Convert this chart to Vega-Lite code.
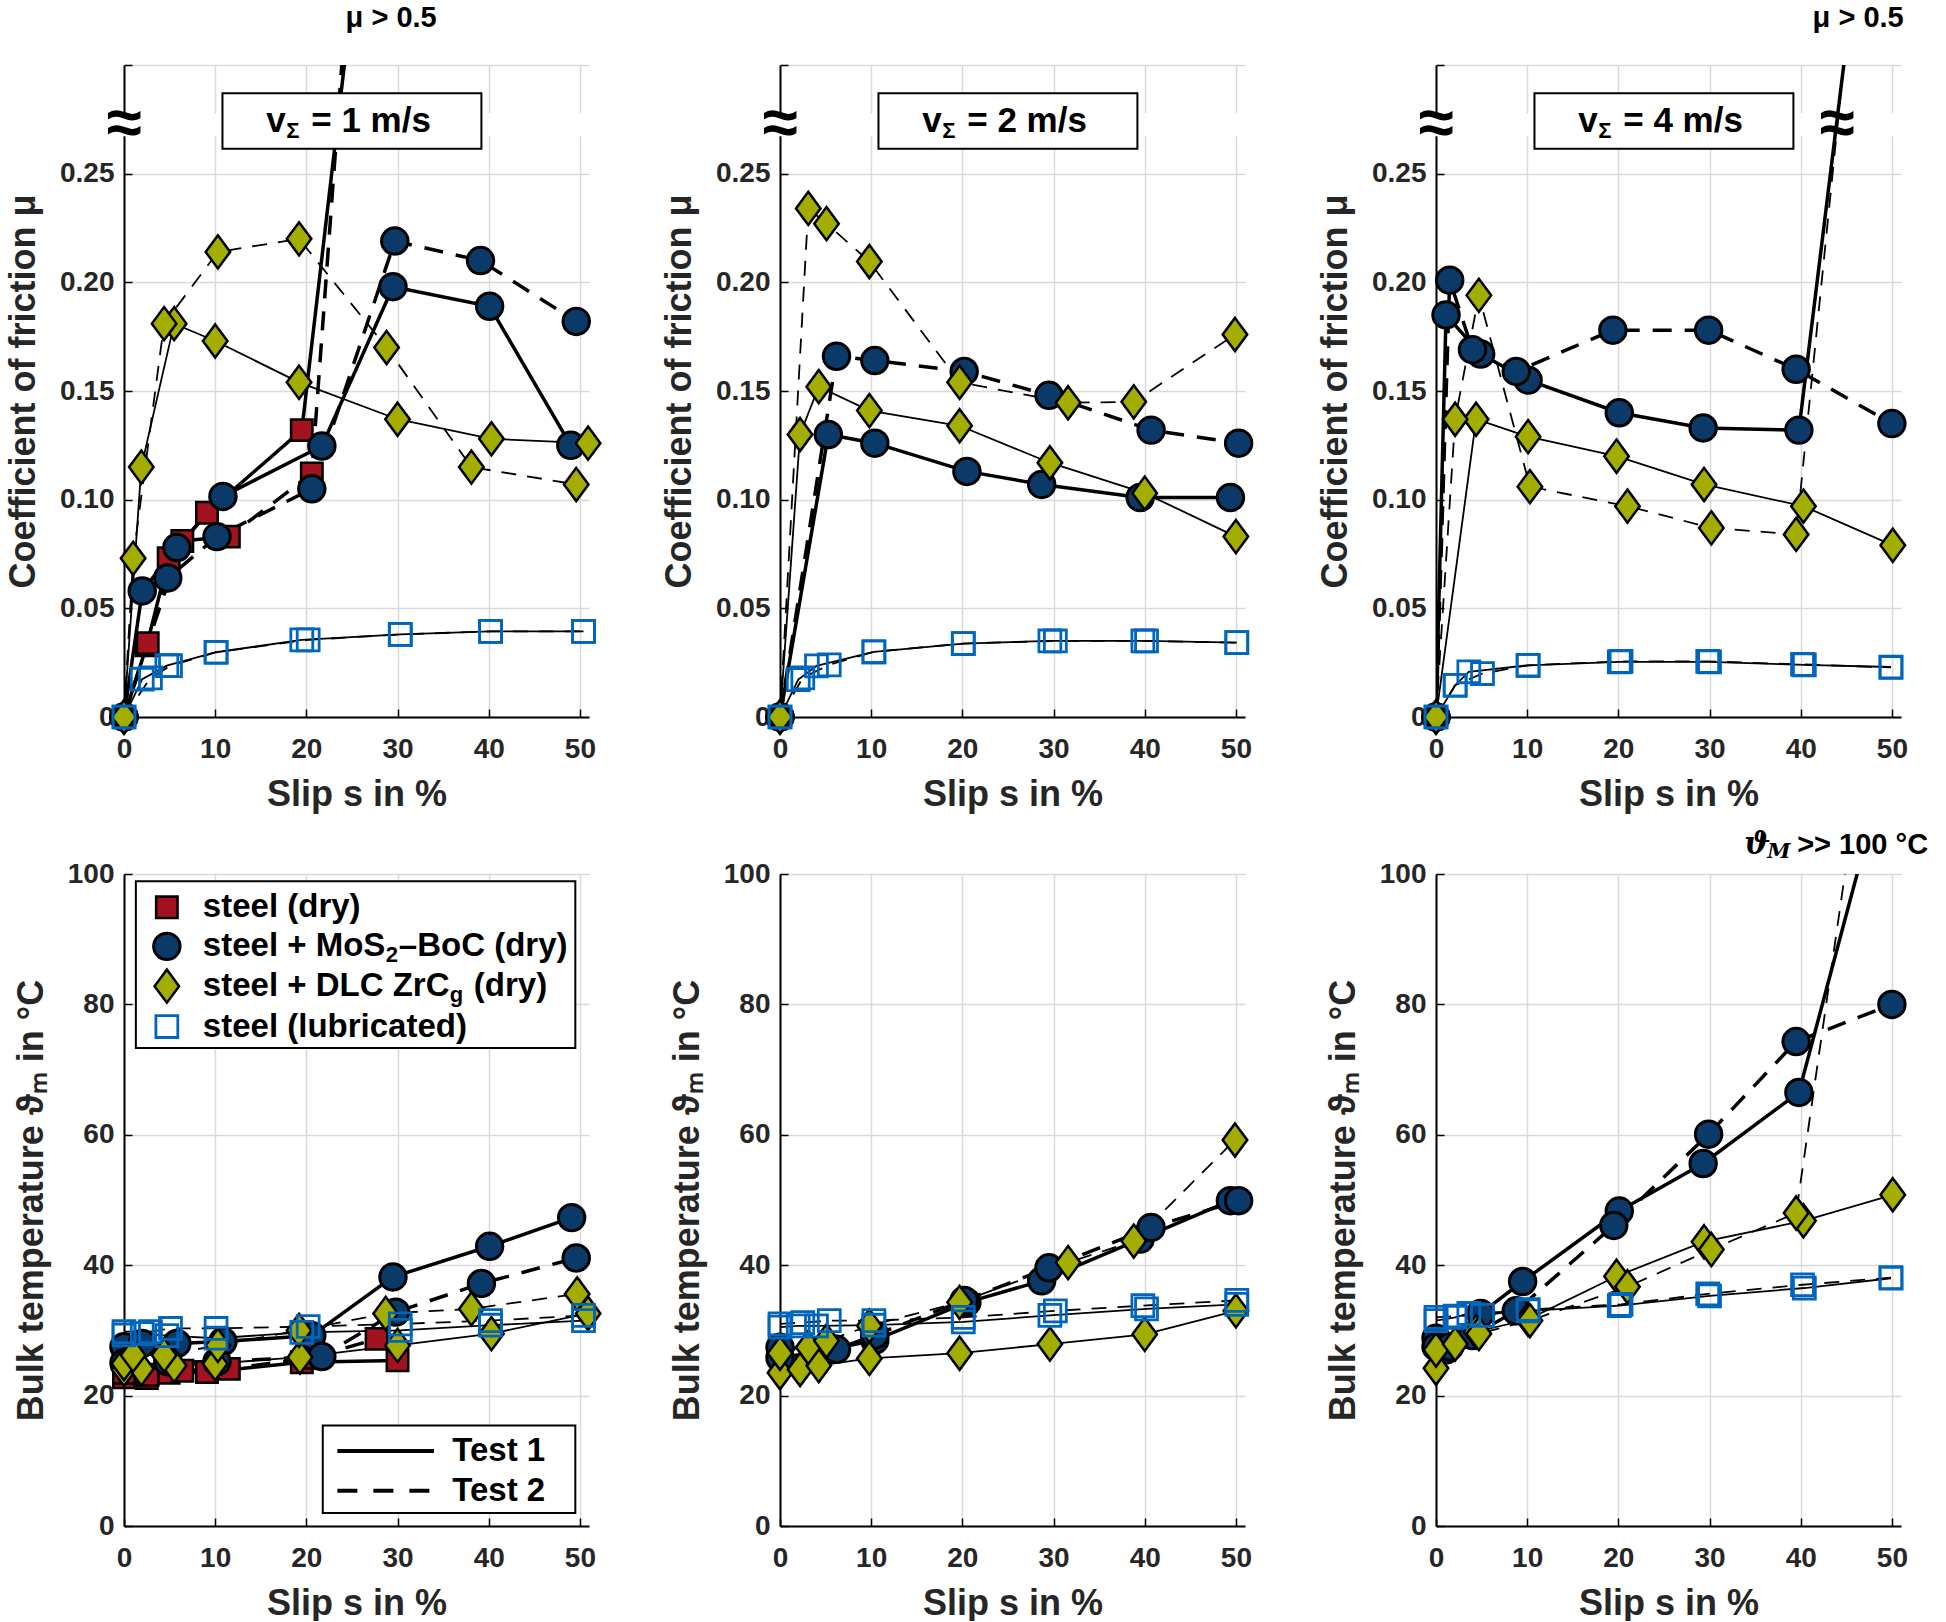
{
"$schema": "https://vega.github.io/schema/vega-lite/v6.json",
"background": "white",
"padding": {"left": 5, "top": 4, "right": 0, "bottom": 0},
"columns": 3,
"spacing": {"row": 157, "column": 191},
"bounds": "flush",
"config": {
 "view": {"stroke": null},
 "font": "Liberation Sans",
 "axis": {"domainColor": "#000", "domainWidth": 2, "gridColor": "#d9d9d9", "gridWidth": 1.5, "tickColor": "#000", "tickSize": -8, "tickWidth": 1.5, "labelFont": "Liberation Sans", "labelFontSize": 28, "labelFontWeight": "bold", "labelColor": "#262626", "labelPadding": 12, "titleFont": "Liberation Sans", "titleFontSize": 36, "titleFontWeight": "bold", "titleColor": "#262626", "titlePadding": 14, "labelFlush": false, "labelOverlap": false},
 "axisX": {"labelPadding": 26},
 "axisY": {"labelPadding": 18, "titlePadding": 17},
 "text": {"font": "Liberation Sans", "fontWeight": "bold", "color": "#000"}
},
"datasets": {
 "mu1": [
  {"m":"dry","t":1,"s":0,"y":0},{"m":"dry","t":1,"s":2.5,"y":0.033},{"m":"dry","t":1,"s":4.9,"y":0.073},{"m":"dry","t":1,"s":9.1,"y":0.094},{"m":"dry","t":1,"s":19.5,"y":0.132},{"m":"dry","t":1,"s":30,"y":0.51,"off":true},
  {"m":"dry","t":2,"s":0,"y":0},{"m":"dry","t":2,"s":2.6,"y":0.034},{"m":"dry","t":2,"s":6.4,"y":0.081},{"m":"dry","t":2,"s":11.5,"y":0.083},{"m":"dry","t":2,"s":20.6,"y":0.112},{"m":"dry","t":2,"s":30,"y":0.65,"off":true},
  {"m":"mos","t":1,"s":0,"y":0},{"m":"mos","t":1,"s":2,"y":0.058},{"m":"mos","t":1,"s":5.8,"y":0.078},{"m":"mos","t":1,"s":10.85,"y":0.1015},{"m":"mos","t":1,"s":21.7,"y":0.1247},{"m":"mos","t":1,"s":29.5,"y":0.198},{"m":"mos","t":1,"s":40.1,"y":0.189},{"m":"mos","t":1,"s":49,"y":0.125},
  {"m":"mos","t":2,"s":0,"y":0},{"m":"mos","t":2,"s":4.8,"y":0.064},{"m":"mos","t":2,"s":10.2,"y":0.083},{"m":"mos","t":2,"s":20.6,"y":0.105},{"m":"mos","t":2,"s":29.7,"y":0.219},{"m":"mos","t":2,"s":39.1,"y":0.21},{"m":"mos","t":2,"s":49.6,"y":0.182},
  {"m":"dlc","t":1,"s":0,"y":0},{"m":"dlc","t":1,"s":1.9,"y":0.115},{"m":"dlc","t":1,"s":5.5,"y":0.181},{"m":"dlc","t":1,"s":10,"y":0.173},{"m":"dlc","t":1,"s":19.2,"y":0.154},{"m":"dlc","t":1,"s":30,"y":0.137},{"m":"dlc","t":1,"s":40.3,"y":0.128},{"m":"dlc","t":1,"s":50.9,"y":0.126},
  {"m":"dlc","t":2,"s":0,"y":0},{"m":"dlc","t":2,"s":1,"y":0.073},{"m":"dlc","t":2,"s":4.4,"y":0.181},{"m":"dlc","t":2,"s":10.3,"y":0.214},{"m":"dlc","t":2,"s":19.2,"y":0.22},{"m":"dlc","t":2,"s":28.8,"y":0.17},{"m":"dlc","t":2,"s":38.1,"y":0.115},{"m":"dlc","t":2,"s":49.6,"y":0.107},
  {"m":"lub","t":1,"s":0,"y":0},{"m":"lub","t":1,"s":2,"y":0.0174},{"m":"lub","t":1,"s":4.7,"y":0.0236},{"m":"lub","t":1,"s":10.1,"y":0.0298},{"m":"lub","t":1,"s":19.5,"y":0.0355},{"m":"lub","t":1,"s":30.3,"y":0.038},{"m":"lub","t":1,"s":40.2,"y":0.0394},{"m":"lub","t":1,"s":50.4,"y":0.0394},
  {"m":"lub","t":2,"s":0,"y":0},{"m":"lub","t":2,"s":2.9,"y":0.018},{"m":"lub","t":2,"s":5.1,"y":0.0236},{"m":"lub","t":2,"s":10.1,"y":0.0298},{"m":"lub","t":2,"s":20.2,"y":0.0355},{"m":"lub","t":2,"s":30.3,"y":0.038},{"m":"lub","t":2,"s":40.2,"y":0.0394},{"m":"lub","t":2,"s":50.4,"y":0.0394}
 ],
 "mu2": [
  {"m":"mos","t":1,"s":0,"y":0},{"m":"mos","t":1,"s":5.3,"y":0.13},{"m":"mos","t":1,"s":10.4,"y":0.126},{"m":"mos","t":1,"s":20.5,"y":0.113},{"m":"mos","t":1,"s":28.7,"y":0.107},{"m":"mos","t":1,"s":39.5,"y":0.101},{"m":"mos","t":1,"s":49.4,"y":0.101},
  {"m":"mos","t":2,"s":0,"y":0},{"m":"mos","t":2,"s":6.2,"y":0.166},{"m":"mos","t":2,"s":10.4,"y":0.164},{"m":"mos","t":2,"s":20.2,"y":0.159},{"m":"mos","t":2,"s":29.5,"y":0.148},{"m":"mos","t":2,"s":40.7,"y":0.132},{"m":"mos","t":2,"s":50.3,"y":0.126},
  {"m":"dlc","t":1,"s":0,"y":0},{"m":"dlc","t":1,"s":2.2,"y":0.13},{"m":"dlc","t":1,"s":4.25,"y":0.152},{"m":"dlc","t":1,"s":9.8,"y":0.141},{"m":"dlc","t":1,"s":19.7,"y":0.134},{"m":"dlc","t":1,"s":29.6,"y":0.117},{"m":"dlc","t":1,"s":40,"y":0.103},{"m":"dlc","t":1,"s":50,"y":0.083},
  {"m":"dlc","t":2,"s":0,"y":0},{"m":"dlc","t":2,"s":3.1,"y":0.234},{"m":"dlc","t":2,"s":5.1,"y":0.227},{"m":"dlc","t":2,"s":9.8,"y":0.2096},{"m":"dlc","t":2,"s":19.7,"y":0.154},{"m":"dlc","t":2,"s":31.6,"y":0.1446},{"m":"dlc","t":2,"s":38.8,"y":0.145},{"m":"dlc","t":2,"s":49.9,"y":0.176},
  {"m":"lub","t":1,"s":0,"y":0},{"m":"lub","t":1,"s":2,"y":0.0172},{"m":"lub","t":1,"s":4,"y":0.0235},{"m":"lub","t":1,"s":10.3,"y":0.03},{"m":"lub","t":1,"s":20.1,"y":0.0338},{"m":"lub","t":1,"s":29.6,"y":0.035},{"m":"lub","t":1,"s":40.2,"y":0.035},{"m":"lub","t":1,"s":50.1,"y":0.0342},
  {"m":"lub","t":2,"s":0,"y":0},{"m":"lub","t":2,"s":2.5,"y":0.018},{"m":"lub","t":2,"s":5.4,"y":0.024},{"m":"lub","t":2,"s":10.3,"y":0.03},{"m":"lub","t":2,"s":20.1,"y":0.0338},{"m":"lub","t":2,"s":30.2,"y":0.035},{"m":"lub","t":2,"s":39.8,"y":0.035},{"m":"lub","t":2,"s":50.1,"y":0.0342}
 ],
 "mu4": [
  {"m":"mos","t":1,"s":0,"y":0},{"m":"mos","t":1,"s":1.1,"y":0.185},{"m":"mos","t":1,"s":4.9,"y":0.167},{"m":"mos","t":1,"s":10.1,"y":0.155},{"m":"mos","t":1,"s":20.1,"y":0.14},{"m":"mos","t":1,"s":29.3,"y":0.133},{"m":"mos","t":1,"s":39.8,"y":0.132},{"m":"mos","t":1,"s":50,"y":0.48,"off":true},
  {"m":"mos","t":2,"s":0,"y":0},{"m":"mos","t":2,"s":1.5,"y":0.201},{"m":"mos","t":2,"s":4,"y":0.169},{"m":"mos","t":2,"s":8.8,"y":0.159},{"m":"mos","t":2,"s":19.4,"y":0.178},{"m":"mos","t":2,"s":29.9,"y":0.178},{"m":"mos","t":2,"s":39.5,"y":0.16},{"m":"mos","t":2,"s":50,"y":0.135},
  {"m":"dlc","t":1,"s":0,"y":0},{"m":"dlc","t":1,"s":4.4,"y":0.137},{"m":"dlc","t":1,"s":10.1,"y":0.129},{"m":"dlc","t":1,"s":19.8,"y":0.12},{"m":"dlc","t":1,"s":29.4,"y":0.107},{"m":"dlc","t":1,"s":40.3,"y":0.097},{"m":"dlc","t":1,"s":50.1,"y":0.079},
  {"m":"dlc","t":2,"s":0,"y":0},{"m":"dlc","t":2,"s":2.1,"y":0.137},{"m":"dlc","t":2,"s":4.7,"y":0.194},{"m":"dlc","t":2,"s":10.3,"y":0.106},{"m":"dlc","t":2,"s":21,"y":0.097},{"m":"dlc","t":2,"s":30.2,"y":0.087},{"m":"dlc","t":2,"s":39.5,"y":0.084},{"m":"dlc","t":2,"s":50,"y":0.52,"off":true},
  {"m":"lub","t":1,"s":0,"y":0},{"m":"lub","t":1,"s":2.1,"y":0.0146},{"m":"lub","t":1,"s":3.6,"y":0.0208},{"m":"lub","t":1,"s":10.1,"y":0.0238},{"m":"lub","t":1,"s":20.1,"y":0.0254},{"m":"lub","t":1,"s":30,"y":0.0254},{"m":"lub","t":1,"s":40.4,"y":0.024},{"m":"lub","t":1,"s":49.9,"y":0.023},
  {"m":"lub","t":2,"s":0,"y":0},{"m":"lub","t":2,"s":2.1,"y":0.0146},{"m":"lub","t":2,"s":5.1,"y":0.02},{"m":"lub","t":2,"s":10.1,"y":0.0238},{"m":"lub","t":2,"s":20.3,"y":0.0256},{"m":"lub","t":2,"s":29.8,"y":0.0256},{"m":"lub","t":2,"s":40.2,"y":0.0242},{"m":"lub","t":2,"s":49.9,"y":0.0228}
 ],
 "T1": [
  {"m":"dry","t":1,"s":0,"y":22.8},{"m":"dry","t":1,"s":2.5,"y":22.7},{"m":"dry","t":1,"s":4.9,"y":23.5},{"m":"dry","t":1,"s":9.1,"y":23.6},{"m":"dry","t":1,"s":19.5,"y":25.1},{"m":"dry","t":1,"s":30,"y":25.4},
  {"m":"dry","t":2,"s":0,"y":23.5},{"m":"dry","t":2,"s":2.6,"y":23.2},{"m":"dry","t":2,"s":6.4,"y":23.8},{"m":"dry","t":2,"s":11.5,"y":24.1},{"m":"dry","t":2,"s":20.6,"y":25.8},{"m":"dry","t":2,"s":27.7,"y":28.7},
  {"m":"mos","t":1,"s":0,"y":27.5},{"m":"mos","t":1,"s":2,"y":28},{"m":"mos","t":1,"s":5.8,"y":28},{"m":"mos","t":1,"s":10.85,"y":28.3},{"m":"mos","t":1,"s":20.6,"y":29.2},{"m":"mos","t":1,"s":29.5,"y":38.2},{"m":"mos","t":1,"s":40.1,"y":42.9},{"m":"mos","t":1,"s":49.1,"y":47.3},
  {"m":"mos","t":2,"s":0,"y":25},{"m":"mos","t":2,"s":4.8,"y":25.2},{"m":"mos","t":2,"s":10.2,"y":25.2},{"m":"mos","t":2,"s":21.7,"y":26},{"m":"mos","t":2,"s":29.8,"y":32.8},{"m":"mos","t":2,"s":39.2,"y":37.2},{"m":"mos","t":2,"s":49.6,"y":41.1},
  {"m":"dlc","t":1,"s":0,"y":24},{"m":"dlc","t":1,"s":1.9,"y":24.1},{"m":"dlc","t":1,"s":5.5,"y":24.6},{"m":"dlc","t":1,"s":10,"y":24.9},{"m":"dlc","t":1,"s":19.3,"y":25.9},{"m":"dlc","t":1,"s":30,"y":27.7},{"m":"dlc","t":1,"s":40.3,"y":29.5},{"m":"dlc","t":1,"s":50.9,"y":32.6},
  {"m":"dlc","t":2,"s":0,"y":24.9},{"m":"dlc","t":2,"s":1,"y":26.2},{"m":"dlc","t":2,"s":4.4,"y":26.2},{"m":"dlc","t":2,"s":10.3,"y":27.7},{"m":"dlc","t":2,"s":19.2,"y":30},{"m":"dlc","t":2,"s":28.7,"y":32.6},{"m":"dlc","t":2,"s":38.1,"y":33.3},{"m":"dlc","t":2,"s":49.7,"y":35.6},
  {"m":"lub","t":1,"s":0,"y":29.3},{"m":"lub","t":1,"s":2,"y":29.5},{"m":"lub","t":1,"s":4.7,"y":29.2},{"m":"lub","t":1,"s":10.1,"y":28.8},{"m":"lub","t":1,"s":19.5,"y":29.7},{"m":"lub","t":1,"s":30.3,"y":30},{"m":"lub","t":1,"s":40.2,"y":30.8},{"m":"lub","t":1,"s":50.4,"y":31.5},
  {"m":"lub","t":2,"s":0,"y":29.8},{"m":"lub","t":2,"s":2.9,"y":29.8},{"m":"lub","t":2,"s":5.1,"y":30.3},{"m":"lub","t":2,"s":10.1,"y":30.3},{"m":"lub","t":2,"s":20.2,"y":30.6},{"m":"lub","t":2,"s":30.3,"y":31},{"m":"lub","t":2,"s":40.2,"y":31.5},{"m":"lub","t":2,"s":50.4,"y":32.3}
 ],
 "T2": [
  {"m":"mos","t":1,"s":0,"y":25.8},{"m":"mos","t":1,"s":5.3,"y":27},{"m":"mos","t":1,"s":10.4,"y":28.5},{"m":"mos","t":1,"s":20.5,"y":34.3},{"m":"mos","t":1,"s":28.7,"y":37.6},{"m":"mos","t":1,"s":39.5,"y":44},{"m":"mos","t":1,"s":49.4,"y":49.9},
  {"m":"mos","t":2,"s":0,"y":27.4},{"m":"mos","t":2,"s":6.2,"y":27.1},{"m":"mos","t":2,"s":10.4,"y":29.3},{"m":"mos","t":2,"s":20.2,"y":34.6},{"m":"mos","t":2,"s":29.5,"y":39.6},{"m":"mos","t":2,"s":40.7,"y":45.8},{"m":"mos","t":2,"s":50.3,"y":49.9},
  {"m":"dlc","t":1,"s":0,"y":23.5},{"m":"dlc","t":1,"s":2.2,"y":24},{"m":"dlc","t":1,"s":4.25,"y":24.6},{"m":"dlc","t":1,"s":9.8,"y":25.7},{"m":"dlc","t":1,"s":19.7,"y":26.5},{"m":"dlc","t":1,"s":29.6,"y":27.9},{"m":"dlc","t":1,"s":40,"y":29.4},{"m":"dlc","t":1,"s":50,"y":33},
  {"m":"dlc","t":2,"s":0,"y":26.5},{"m":"dlc","t":2,"s":3.1,"y":27.4},{"m":"dlc","t":2,"s":5.1,"y":28.4},{"m":"dlc","t":2,"s":9.8,"y":30.7},{"m":"dlc","t":2,"s":19.7,"y":34.3},{"m":"dlc","t":2,"s":31.6,"y":40.4},{"m":"dlc","t":2,"s":38.8,"y":43.7},{"m":"dlc","t":2,"s":49.9,"y":59.2},
  {"m":"lub","t":1,"s":0,"y":30.5},{"m":"lub","t":1,"s":2,"y":30.7},{"m":"lub","t":1,"s":4,"y":30.7},{"m":"lub","t":1,"s":10.3,"y":30.8},{"m":"lub","t":1,"s":20.1,"y":31.3},{"m":"lub","t":1,"s":29.6,"y":32.3},{"m":"lub","t":1,"s":40.2,"y":33.3},{"m":"lub","t":1,"s":50.1,"y":34},
  {"m":"lub","t":2,"s":0,"y":31},{"m":"lub","t":2,"s":2.5,"y":31.2},{"m":"lub","t":2,"s":5.4,"y":31.5},{"m":"lub","t":2,"s":10.3,"y":31.5},{"m":"lub","t":2,"s":20.1,"y":32},{"m":"lub","t":2,"s":30.2,"y":33},{"m":"lub","t":2,"s":39.8,"y":33.8},{"m":"lub","t":2,"s":50.1,"y":34.6}
 ],
 "T4": [
  {"m":"mos","t":1,"s":0,"y":28.8},{"m":"mos","t":1,"s":1.1,"y":27},{"m":"mos","t":1,"s":4.9,"y":32.6},{"m":"mos","t":1,"s":9.5,"y":37.5},{"m":"mos","t":1,"s":20.1,"y":48.3},{"m":"mos","t":1,"s":29.3,"y":55.6},{"m":"mos","t":1,"s":39.8,"y":66.5},{"m":"mos","t":1,"s":50,"y":120,"off":true},
  {"m":"mos","t":2,"s":0,"y":27.5},{"m":"mos","t":2,"s":1.5,"y":27.5},{"m":"mos","t":2,"s":4,"y":29.2},{"m":"mos","t":2,"s":8.8,"y":33},{"m":"mos","t":2,"s":19.5,"y":46.1},{"m":"mos","t":2,"s":29.9,"y":60.1},{"m":"mos","t":2,"s":39.5,"y":74.3},{"m":"mos","t":2,"s":50,"y":80},
  {"m":"dlc","t":1,"s":0,"y":24.2},{"m":"dlc","t":1,"s":4.4,"y":29.8},{"m":"dlc","t":1,"s":10.1,"y":31.7},{"m":"dlc","t":1,"s":19.8,"y":38.3},{"m":"dlc","t":1,"s":29.4,"y":43.6},{"m":"dlc","t":1,"s":40.3,"y":46.8},{"m":"dlc","t":1,"s":50.1,"y":50.8},
  {"m":"dlc","t":2,"s":0,"y":27},{"m":"dlc","t":2,"s":2.1,"y":27.9},{"m":"dlc","t":2,"s":4.7,"y":29.5},{"m":"dlc","t":2,"s":10.3,"y":31.5},{"m":"dlc","t":2,"s":21,"y":36.7},{"m":"dlc","t":2,"s":30.2,"y":42.4},{"m":"dlc","t":2,"s":39.5,"y":48},{"m":"dlc","t":2,"s":50,"y":150,"off":true},
  {"m":"lub","t":1,"s":0,"y":31.5},{"m":"lub","t":1,"s":2.1,"y":32},{"m":"lub","t":1,"s":3.6,"y":32.6},{"m":"lub","t":1,"s":10.1,"y":33},{"m":"lub","t":1,"s":20.1,"y":33.8},{"m":"lub","t":1,"s":30,"y":35.3},{"m":"lub","t":1,"s":40.4,"y":36.5},{"m":"lub","t":1,"s":49.9,"y":38},
  {"m":"lub","t":2,"s":0,"y":32},{"m":"lub","t":2,"s":2.1,"y":32.2},{"m":"lub","t":2,"s":5.1,"y":32.3},{"m":"lub","t":2,"s":10.1,"y":33.2},{"m":"lub","t":2,"s":20.3,"y":34},{"m":"lub","t":2,"s":29.8,"y":35.6},{"m":"lub","t":2,"s":40.2,"y":37},{"m":"lub","t":2,"s":49.9,"y":38.1}
 ],
 "leg": [
  {"m":"dry","s":4.7,"y":94.9,"lab":"steel (dry)"},
  {"m":"mos","s":4.7,"y":88.9,"lab":"steel + MoS","sub":"2","rest":"–BoC (dry)"},
  {"m":"dlc","s":4.7,"y":82.8,"lab":"steel + DLC ZrC","sub":"g","rest":"(dry)"},
  {"m":"lub","s":4.7,"y":76.6,"lab":"steel (lubricated)"}
 ]
},
"concat": [
 {
  "width": 465, "height": 652,
  "encoding": {
   "x": {"field":"s","type":"quantitative","scale":{"domain":[0,51],"nice":false,"zero":false},"axis":{"values":[0,10,20,30,40,50],"title":"Slip s in %"}},
   "y": {"field":"y","type":"quantitative","scale":{"domain":[0,0.3],"nice":false,"zero":false},"axis":{"values":[0,0.05,0.1,0.15,0.2,0.25,0.3],"title":"Coefficient of friction μ","labelExpr":"abs(datum.value)<0.001?'0':(datum.value>0.29?'':format(datum.value,'.2f'))"}}
  },
  "layer": [
   {"data":{"values":[{"s":-0.6,"s2":51,"y":0.2672,"y2":0.2778}]},"mark":{"type":"rect","fill":"white"},"encoding":{"x2":{"field":"s2"},"y2":{"field":"y2"}}},
   {"data":{"name":"mu1"},"transform":[{"filter":"(datum.m=='dry'||datum.m=='mos')&&datum.t==1"}],"mark":{"type":"line","clip":true,"color":"#000","strokeWidth":3.5},"encoding":{"detail":{"field":"m"}}},
   {"data":{"name":"mu1"},"transform":[{"filter":"(datum.m=='dry'||datum.m=='mos')&&datum.t==2"}],"mark":{"type":"line","clip":true,"color":"#000","strokeWidth":3.5,"strokeDash":[19,13]},"encoding":{"detail":{"field":"m"}}},
   {"data":{"name":"mu1"},"transform":[{"filter":"(datum.m=='dlc'||datum.m=='lub')&&datum.t==1"}],"mark":{"type":"line","clip":true,"color":"#000","strokeWidth":1.8},"encoding":{"detail":{"field":"m"}}},
   {"data":{"name":"mu1"},"transform":[{"filter":"(datum.m=='dlc'||datum.m=='lub')&&datum.t==2"}],"mark":{"type":"line","clip":true,"color":"#000","strokeWidth":1.8,"strokeDash":[15,11]},"encoding":{"detail":{"field":"m"}}},
   {"data":{"name":"mu1"},"transform":[{"filter":"datum.m=='dry'&&!datum.off"}],"mark":{"type":"point","shape":"square","size":460,"filled":true,"fill":"#a3121f","stroke":"#000","strokeWidth":2.5,"opacity":1}},
   {"data":{"name":"mu1"},"transform":[{"filter":"datum.m=='mos'&&!datum.off"}],"mark":{"type":"point","shape":"circle","size":700,"filled":true,"fill":"#0b3a68","stroke":"#000","strokeWidth":3,"opacity":1}},
   {"data":{"name":"mu1"},"transform":[{"filter":"datum.m=='dlc'&&!datum.off"}],"mark":{"type":"point","shape":"M0,-1L0.74,0L0,1L-0.74,0Z","size":1100,"filled":true,"fill":"#a2ad00","stroke":"#000","strokeWidth":2.5,"opacity":1}},
   {"data":{"name":"mu1"},"transform":[{"filter":"datum.m=='lub'&&!datum.off"}],"mark":{"type":"point","shape":"square","size":480,"filled":false,"stroke":"#0065bd","strokeWidth":2.8,"opacity":1}},
   {"data":{"values":[{"s":10.8,"s2":39.2,"y":0.2615,"y2":0.287}]},"mark":{"type":"rect","fill":"white","stroke":"#000","strokeWidth":2},"encoding":{"x2":{"field":"s2"},"y2":{"field":"y2"}}},
   {"data":{"values":[{"s":15.6,"y":0.2742,"lab":"v","sub":"Σ","rest":"= 1 m/s"}]},"mark":{"type":"text","align":"left","baseline":"middle","fontSize":35,"fontWeight":"bold"},"encoding":{"text":{"field":"lab"}}},
   {"data":{"values":[{"s":15.6,"y":0.2742,"lab":"v","sub":"Σ","rest":"= 1 m/s"}]},"mark":{"type":"text","align":"left","baseline":"middle","fontSize":22,"fontWeight":"bold","dx":20,"dy":10},"encoding":{"text":{"field":"sub"}}},
   {"data":{"values":[{"s":15.6,"y":0.2742,"lab":"v","sub":"Σ","rest":"= 1 m/s"}]},"mark":{"type":"text","align":"left","baseline":"middle","fontSize":35,"fontWeight":"bold","dx":45},"encoding":{"text":{"field":"rest"}}},
   {"data":{"values":[{"s":0,"y":0.2725,"lab":"≈"}]},"mark":{"type":"text","align":"center","baseline":"middle","fontSize":64,"fontWeight":"bold"},"encoding":{"text":{"field":"lab"}}},
   {"data":{"values":[{"s":29.3,"y":0.3216,"lab":"μ > 0.5"}]},"mark":{"type":"text","align":"center","baseline":"middle","fontSize":29,"fontWeight":"bold"},"encoding":{"text":{"field":"lab"}}}
  ]
 },
 {
  "width": 465, "height": 652,
  "encoding": {
   "x": {"field":"s","type":"quantitative","scale":{"domain":[0,51],"nice":false,"zero":false},"axis":{"values":[0,10,20,30,40,50],"title":"Slip s in %"}},
   "y": {"field":"y","type":"quantitative","scale":{"domain":[0,0.3],"nice":false,"zero":false},"axis":{"values":[0,0.05,0.1,0.15,0.2,0.25,0.3],"title":"Coefficient of friction μ","labelExpr":"abs(datum.value)<0.001?'0':(datum.value>0.29?'':format(datum.value,'.2f'))"}}
  },
  "layer": [
   {"data":{"values":[{"s":-0.6,"s2":51,"y":0.2672,"y2":0.2778}]},"mark":{"type":"rect","fill":"white"},"encoding":{"x2":{"field":"s2"},"y2":{"field":"y2"}}},
   {"data":{"name":"mu2"},"transform":[{"filter":"(datum.m=='dry'||datum.m=='mos')&&datum.t==1"}],"mark":{"type":"line","clip":true,"color":"#000","strokeWidth":3.5},"encoding":{"detail":{"field":"m"}}},
   {"data":{"name":"mu2"},"transform":[{"filter":"(datum.m=='dry'||datum.m=='mos')&&datum.t==2"}],"mark":{"type":"line","clip":true,"color":"#000","strokeWidth":3.5,"strokeDash":[19,13]},"encoding":{"detail":{"field":"m"}}},
   {"data":{"name":"mu2"},"transform":[{"filter":"(datum.m=='dlc'||datum.m=='lub')&&datum.t==1"}],"mark":{"type":"line","clip":true,"color":"#000","strokeWidth":1.8},"encoding":{"detail":{"field":"m"}}},
   {"data":{"name":"mu2"},"transform":[{"filter":"(datum.m=='dlc'||datum.m=='lub')&&datum.t==2"}],"mark":{"type":"line","clip":true,"color":"#000","strokeWidth":1.8,"strokeDash":[15,11]},"encoding":{"detail":{"field":"m"}}},
   {"data":{"name":"mu2"},"transform":[{"filter":"datum.m=='mos'&&!datum.off"}],"mark":{"type":"point","shape":"circle","size":700,"filled":true,"fill":"#0b3a68","stroke":"#000","strokeWidth":3,"opacity":1}},
   {"data":{"name":"mu2"},"transform":[{"filter":"datum.m=='dlc'&&!datum.off"}],"mark":{"type":"point","shape":"M0,-1L0.74,0L0,1L-0.74,0Z","size":1100,"filled":true,"fill":"#a2ad00","stroke":"#000","strokeWidth":2.5,"opacity":1}},
   {"data":{"name":"mu2"},"transform":[{"filter":"datum.m=='lub'&&!datum.off"}],"mark":{"type":"point","shape":"square","size":480,"filled":false,"stroke":"#0065bd","strokeWidth":2.8,"opacity":1}},
   {"data":{"values":[{"s":10.8,"s2":39.2,"y":0.2615,"y2":0.287}]},"mark":{"type":"rect","fill":"white","stroke":"#000","strokeWidth":2},"encoding":{"x2":{"field":"s2"},"y2":{"field":"y2"}}},
   {"data":{"values":[{"s":15.6,"y":0.2742,"lab":"v","sub":"Σ","rest":"= 2 m/s"}]},"mark":{"type":"text","align":"left","baseline":"middle","fontSize":35,"fontWeight":"bold"},"encoding":{"text":{"field":"lab"}}},
   {"data":{"values":[{"s":15.6,"y":0.2742,"lab":"v","sub":"Σ","rest":"= 2 m/s"}]},"mark":{"type":"text","align":"left","baseline":"middle","fontSize":22,"fontWeight":"bold","dx":20,"dy":10},"encoding":{"text":{"field":"sub"}}},
   {"data":{"values":[{"s":15.6,"y":0.2742,"lab":"v","sub":"Σ","rest":"= 2 m/s"}]},"mark":{"type":"text","align":"left","baseline":"middle","fontSize":35,"fontWeight":"bold","dx":45},"encoding":{"text":{"field":"rest"}}},
   {"data":{"values":[{"s":0,"y":0.2725,"lab":"≈"}]},"mark":{"type":"text","align":"center","baseline":"middle","fontSize":64,"fontWeight":"bold"},"encoding":{"text":{"field":"lab"}}}
  ]
 },
 {
  "width": 465, "height": 652,
  "encoding": {
   "x": {"field":"s","type":"quantitative","scale":{"domain":[0,51],"nice":false,"zero":false},"axis":{"values":[0,10,20,30,40,50],"title":"Slip s in %"}},
   "y": {"field":"y","type":"quantitative","scale":{"domain":[0,0.3],"nice":false,"zero":false},"axis":{"values":[0,0.05,0.1,0.15,0.2,0.25,0.3],"title":"Coefficient of friction μ","labelExpr":"abs(datum.value)<0.001?'0':(datum.value>0.29?'':format(datum.value,'.2f'))"}}
  },
  "layer": [
   {"data":{"values":[{"s":-0.6,"s2":51,"y":0.2672,"y2":0.2778}]},"mark":{"type":"rect","fill":"white"},"encoding":{"x2":{"field":"s2"},"y2":{"field":"y2"}}},
   {"data":{"name":"mu4"},"transform":[{"filter":"(datum.m=='dry'||datum.m=='mos')&&datum.t==1"}],"mark":{"type":"line","clip":true,"color":"#000","strokeWidth":3.5},"encoding":{"detail":{"field":"m"}}},
   {"data":{"name":"mu4"},"transform":[{"filter":"(datum.m=='dry'||datum.m=='mos')&&datum.t==2"}],"mark":{"type":"line","clip":true,"color":"#000","strokeWidth":3.5,"strokeDash":[19,13]},"encoding":{"detail":{"field":"m"}}},
   {"data":{"name":"mu4"},"transform":[{"filter":"(datum.m=='dlc'||datum.m=='lub')&&datum.t==1"}],"mark":{"type":"line","clip":true,"color":"#000","strokeWidth":1.8},"encoding":{"detail":{"field":"m"}}},
   {"data":{"name":"mu4"},"transform":[{"filter":"(datum.m=='dlc'||datum.m=='lub')&&datum.t==2"}],"mark":{"type":"line","clip":true,"color":"#000","strokeWidth":1.8,"strokeDash":[15,11]},"encoding":{"detail":{"field":"m"}}},
   {"data":{"name":"mu4"},"transform":[{"filter":"datum.m=='mos'&&!datum.off"}],"mark":{"type":"point","shape":"circle","size":700,"filled":true,"fill":"#0b3a68","stroke":"#000","strokeWidth":3,"opacity":1}},
   {"data":{"name":"mu4"},"transform":[{"filter":"datum.m=='dlc'&&!datum.off"}],"mark":{"type":"point","shape":"M0,-1L0.74,0L0,1L-0.74,0Z","size":1100,"filled":true,"fill":"#a2ad00","stroke":"#000","strokeWidth":2.5,"opacity":1}},
   {"data":{"name":"mu4"},"transform":[{"filter":"datum.m=='lub'&&!datum.off"}],"mark":{"type":"point","shape":"square","size":480,"filled":false,"stroke":"#0065bd","strokeWidth":2.8,"opacity":1}},
   {"data":{"values":[{"s":10.8,"s2":39.2,"y":0.2615,"y2":0.287}]},"mark":{"type":"rect","fill":"white","stroke":"#000","strokeWidth":2},"encoding":{"x2":{"field":"s2"},"y2":{"field":"y2"}}},
   {"data":{"values":[{"s":15.6,"y":0.2742,"lab":"v","sub":"Σ","rest":"= 4 m/s"}]},"mark":{"type":"text","align":"left","baseline":"middle","fontSize":35,"fontWeight":"bold"},"encoding":{"text":{"field":"lab"}}},
   {"data":{"values":[{"s":15.6,"y":0.2742,"lab":"v","sub":"Σ","rest":"= 4 m/s"}]},"mark":{"type":"text","align":"left","baseline":"middle","fontSize":22,"fontWeight":"bold","dx":20,"dy":10},"encoding":{"text":{"field":"sub"}}},
   {"data":{"values":[{"s":15.6,"y":0.2742,"lab":"v","sub":"Σ","rest":"= 4 m/s"}]},"mark":{"type":"text","align":"left","baseline":"middle","fontSize":35,"fontWeight":"bold","dx":45},"encoding":{"text":{"field":"rest"}}},
   {"data":{"values":[{"s":0,"y":0.2725,"lab":"≈"},{"s":44,"y":0.2725,"lab":"≈"}]},"mark":{"type":"text","align":"center","baseline":"middle","fontSize":64,"fontWeight":"bold"},"encoding":{"text":{"field":"lab"}}},
   {"data":{"values":[{"s":46.3,"y":0.3216,"lab":"μ > 0.5"}]},"mark":{"type":"text","align":"center","baseline":"middle","fontSize":29,"fontWeight":"bold"},"encoding":{"text":{"field":"lab"}}}
  ]
 },
 {
  "width": 465, "height": 652,
  "encoding": {
   "x": {"field":"s","type":"quantitative","scale":{"domain":[0,51],"nice":false,"zero":false},"axis":{"values":[0,10,20,30,40,50],"title":"Slip s in %"}},
   "y": {"field":"y","type":"quantitative","scale":{"domain":[0,100],"nice":false,"zero":false},"axis":{"values":[0,20,40,60,80,100],"title":"Bulk temperature ϑₘ in °C"}}
  },
  "layer": [
   {"data":{"name":"T1"},"transform":[{"filter":"(datum.m=='dry'||datum.m=='mos')&&datum.t==1"}],"mark":{"type":"line","clip":true,"color":"#000","strokeWidth":3.5},"encoding":{"detail":{"field":"m"}}},
   {"data":{"name":"T1"},"transform":[{"filter":"(datum.m=='dry'||datum.m=='mos')&&datum.t==2"}],"mark":{"type":"line","clip":true,"color":"#000","strokeWidth":3.5,"strokeDash":[19,13]},"encoding":{"detail":{"field":"m"}}},
   {"data":{"name":"T1"},"transform":[{"filter":"(datum.m=='dlc'||datum.m=='lub')&&datum.t==1"}],"mark":{"type":"line","clip":true,"color":"#000","strokeWidth":1.8},"encoding":{"detail":{"field":"m"}}},
   {"data":{"name":"T1"},"transform":[{"filter":"(datum.m=='dlc'||datum.m=='lub')&&datum.t==2"}],"mark":{"type":"line","clip":true,"color":"#000","strokeWidth":1.8,"strokeDash":[15,11]},"encoding":{"detail":{"field":"m"}}},
   {"data":{"name":"T1"},"transform":[{"filter":"datum.m=='dry'&&!datum.off"}],"mark":{"type":"point","shape":"square","size":460,"filled":true,"fill":"#a3121f","stroke":"#000","strokeWidth":2.5,"opacity":1}},
   {"data":{"name":"T1"},"transform":[{"filter":"datum.m=='mos'&&!datum.off"}],"mark":{"type":"point","shape":"circle","size":700,"filled":true,"fill":"#0b3a68","stroke":"#000","strokeWidth":3,"opacity":1}},
   {"data":{"name":"T1"},"transform":[{"filter":"datum.m=='dlc'&&!datum.off"}],"mark":{"type":"point","shape":"M0,-1L0.74,0L0,1L-0.74,0Z","size":1100,"filled":true,"fill":"#a2ad00","stroke":"#000","strokeWidth":2.5,"opacity":1}},
   {"data":{"name":"T1"},"transform":[{"filter":"datum.m=='lub'&&!datum.off"}],"mark":{"type":"point","shape":"square","size":480,"filled":false,"stroke":"#0065bd","strokeWidth":2.8,"opacity":1}},
   {"data":{"values":[{"s":1.3,"s2":49.5,"y":73.3,"y2":98.9}]},"mark":{"type":"rect","fill":"white","stroke":"#000","strokeWidth":2},"encoding":{"x2":{"field":"s2"},"y2":{"field":"y2"}}},
   {"data":{"name":"leg"},"transform":[{"filter":"datum.m=='dry'"}],"mark":{"type":"point","shape":"square","size":460,"filled":true,"fill":"#a3121f","stroke":"#000","strokeWidth":2.5,"opacity":1}},
   {"data":{"name":"leg"},"transform":[{"filter":"datum.m=='mos'"}],"mark":{"type":"point","shape":"circle","size":700,"filled":true,"fill":"#0b3a68","stroke":"#000","strokeWidth":3,"opacity":1}},
   {"data":{"name":"leg"},"transform":[{"filter":"datum.m=='dlc'"}],"mark":{"type":"point","shape":"M0,-1L0.74,0L0,1L-0.74,0Z","size":1100,"filled":true,"fill":"#a2ad00","stroke":"#000","strokeWidth":2.5,"opacity":1}},
   {"data":{"name":"leg"},"transform":[{"filter":"datum.m=='lub'"}],"mark":{"type":"point","shape":"square","size":480,"filled":false,"stroke":"#0065bd","strokeWidth":2.8,"opacity":1}},
   {"data":{"name":"leg"},"mark":{"type":"text","align":"left","baseline":"middle","fontSize":33,"fontWeight":"bold","dx":36},"encoding":{"text":{"field":"lab"}}},
   {"data":{"name":"leg"},"transform":[{"filter":"datum.m=='mos'"}],"mark":{"type":"text","align":"left","baseline":"middle","fontSize":22,"fontWeight":"bold","dx":219,"dy":9},"encoding":{"text":{"field":"sub"}}},
   {"data":{"name":"leg"},"transform":[{"filter":"datum.m=='mos'"}],"mark":{"type":"text","align":"left","baseline":"middle","fontSize":33,"fontWeight":"bold","dx":232},"encoding":{"text":{"field":"rest"}}},
   {"data":{"name":"leg"},"transform":[{"filter":"datum.m=='dlc'"}],"mark":{"type":"text","align":"left","baseline":"middle","fontSize":22,"fontWeight":"bold","dx":283,"dy":9},"encoding":{"text":{"field":"sub"}}},
   {"data":{"name":"leg"},"transform":[{"filter":"datum.m=='dlc'"}],"mark":{"type":"text","align":"left","baseline":"middle","fontSize":33,"fontWeight":"bold","dx":307},"encoding":{"text":{"field":"rest"}}},
   {"data":{"values":[{"s":21.8,"s2":49.5,"y":2.0,"y2":15.4}]},"mark":{"type":"rect","fill":"white","stroke":"#000","strokeWidth":2},"encoding":{"x2":{"field":"s2"},"y2":{"field":"y2"}}},
   {"data":{"values":[{"s":23.4,"s2":34,"y":11.5}]},"mark":{"type":"rule","color":"#000","strokeWidth":4},"encoding":{"x2":{"field":"s2"}}},
   {"data":{"values":[{"s":23.4,"s2":34,"y":5.4}]},"mark":{"type":"rule","color":"#000","strokeWidth":4,"strokeDash":[20,16]},"encoding":{"x2":{"field":"s2"}}},
   {"data":{"values":[{"s":36,"y":11.5,"lab":"Test 1"},{"s":36,"y":5.4,"lab":"Test 2"}]},"mark":{"type":"text","align":"left","baseline":"middle","fontSize":33,"fontWeight":"bold"},"encoding":{"text":{"field":"lab"}}}
  ]
 },
 {
  "width": 465, "height": 652,
  "encoding": {
   "x": {"field":"s","type":"quantitative","scale":{"domain":[0,51],"nice":false,"zero":false},"axis":{"values":[0,10,20,30,40,50],"title":"Slip s in %"}},
   "y": {"field":"y","type":"quantitative","scale":{"domain":[0,100],"nice":false,"zero":false},"axis":{"values":[0,20,40,60,80,100],"title":"Bulk temperature ϑₘ in °C"}}
  },
  "layer": [
   {"data":{"name":"T2"},"transform":[{"filter":"(datum.m=='dry'||datum.m=='mos')&&datum.t==1"}],"mark":{"type":"line","clip":true,"color":"#000","strokeWidth":3.5},"encoding":{"detail":{"field":"m"}}},
   {"data":{"name":"T2"},"transform":[{"filter":"(datum.m=='dry'||datum.m=='mos')&&datum.t==2"}],"mark":{"type":"line","clip":true,"color":"#000","strokeWidth":3.5,"strokeDash":[19,13]},"encoding":{"detail":{"field":"m"}}},
   {"data":{"name":"T2"},"transform":[{"filter":"(datum.m=='dlc'||datum.m=='lub')&&datum.t==1"}],"mark":{"type":"line","clip":true,"color":"#000","strokeWidth":1.8},"encoding":{"detail":{"field":"m"}}},
   {"data":{"name":"T2"},"transform":[{"filter":"(datum.m=='dlc'||datum.m=='lub')&&datum.t==2"}],"mark":{"type":"line","clip":true,"color":"#000","strokeWidth":1.8,"strokeDash":[15,11]},"encoding":{"detail":{"field":"m"}}},
   {"data":{"name":"T2"},"transform":[{"filter":"datum.m=='mos'&&!datum.off"}],"mark":{"type":"point","shape":"circle","size":700,"filled":true,"fill":"#0b3a68","stroke":"#000","strokeWidth":3,"opacity":1}},
   {"data":{"name":"T2"},"transform":[{"filter":"datum.m=='dlc'&&!datum.off"}],"mark":{"type":"point","shape":"M0,-1L0.74,0L0,1L-0.74,0Z","size":1100,"filled":true,"fill":"#a2ad00","stroke":"#000","strokeWidth":2.5,"opacity":1}},
   {"data":{"name":"T2"},"transform":[{"filter":"datum.m=='lub'&&!datum.off"}],"mark":{"type":"point","shape":"square","size":480,"filled":false,"stroke":"#0065bd","strokeWidth":2.8,"opacity":1}}
  ]
 },
 {
  "width": 465, "height": 652,
  "encoding": {
   "x": {"field":"s","type":"quantitative","scale":{"domain":[0,51],"nice":false,"zero":false},"axis":{"values":[0,10,20,30,40,50],"title":"Slip s in %"}},
   "y": {"field":"y","type":"quantitative","scale":{"domain":[0,100],"nice":false,"zero":false},"axis":{"values":[0,20,40,60,80,100],"title":"Bulk temperature ϑₘ in °C"}}
  },
  "layer": [
   {"data":{"name":"T4"},"transform":[{"filter":"(datum.m=='dry'||datum.m=='mos')&&datum.t==1"}],"mark":{"type":"line","clip":true,"color":"#000","strokeWidth":3.5},"encoding":{"detail":{"field":"m"}}},
   {"data":{"name":"T4"},"transform":[{"filter":"(datum.m=='dry'||datum.m=='mos')&&datum.t==2"}],"mark":{"type":"line","clip":true,"color":"#000","strokeWidth":3.5,"strokeDash":[19,13]},"encoding":{"detail":{"field":"m"}}},
   {"data":{"name":"T4"},"transform":[{"filter":"(datum.m=='dlc'||datum.m=='lub')&&datum.t==1"}],"mark":{"type":"line","clip":true,"color":"#000","strokeWidth":1.8},"encoding":{"detail":{"field":"m"}}},
   {"data":{"name":"T4"},"transform":[{"filter":"(datum.m=='dlc'||datum.m=='lub')&&datum.t==2"}],"mark":{"type":"line","clip":true,"color":"#000","strokeWidth":1.8,"strokeDash":[15,11]},"encoding":{"detail":{"field":"m"}}},
   {"data":{"name":"T4"},"transform":[{"filter":"datum.m=='mos'&&!datum.off"}],"mark":{"type":"point","shape":"circle","size":700,"filled":true,"fill":"#0b3a68","stroke":"#000","strokeWidth":3,"opacity":1}},
   {"data":{"name":"T4"},"transform":[{"filter":"datum.m=='dlc'&&!datum.off"}],"mark":{"type":"point","shape":"M0,-1L0.74,0L0,1L-0.74,0Z","size":1100,"filled":true,"fill":"#a2ad00","stroke":"#000","strokeWidth":2.5,"opacity":1}},
   {"data":{"name":"T4"},"transform":[{"filter":"datum.m=='lub'&&!datum.off"}],"mark":{"type":"point","shape":"square","size":480,"filled":false,"stroke":"#0065bd","strokeWidth":2.8,"opacity":1}},
   {"data":{"values":[{"s":33.8,"y":104.4,"lab":"ϑ","sub":"M","rest":">> 100 °C"}]},"mark":{"type":"text","align":"left","baseline":"middle","fontSize":31,"fontWeight":"bold","fontStyle":"italic","font":"DejaVu Serif"},"encoding":{"text":{"field":"lab"}}},
   {"data":{"values":[{"s":33.8,"y":104.4,"lab":"ϑ","sub":"M","rest":">> 100 °C"}]},"mark":{"type":"text","align":"left","baseline":"middle","fontSize":21,"fontWeight":"bold","fontStyle":"italic","font":"DejaVu Serif","dx":23,"dy":7},"encoding":{"text":{"field":"sub"}}},
   {"data":{"values":[{"s":33.8,"y":104.4,"lab":"ϑ","sub":"M","rest":">> 100 °C"}]},"mark":{"type":"text","align":"left","baseline":"middle","fontSize":29,"fontWeight":"bold","dx":53},"encoding":{"text":{"field":"rest"}}}
  ]
 }
]
}
